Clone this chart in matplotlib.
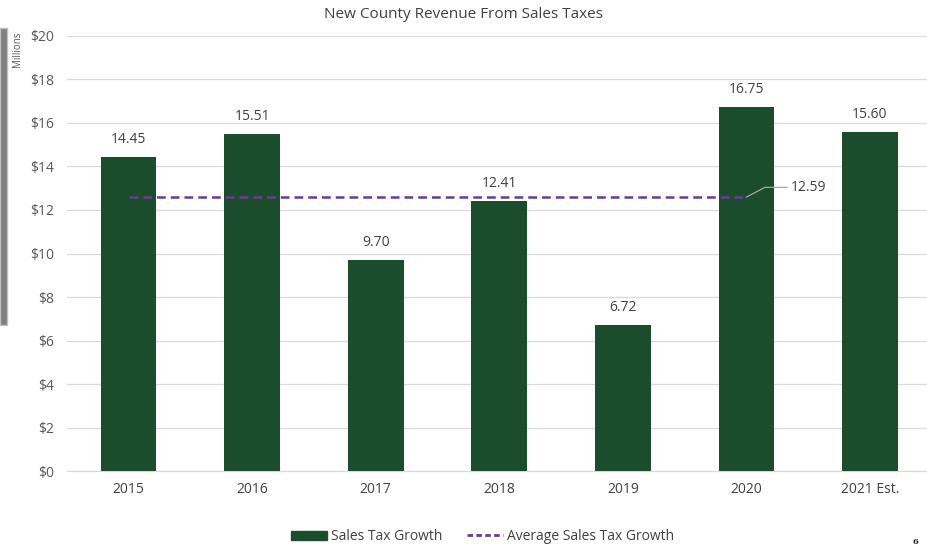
import matplotlib.pyplot as plt
import matplotlib.patches as mpatches
from matplotlib.lines import Line2D

years = ["2015", "2016", "2017", "2018", "2019", "2020", "2021 Est."]
revenue = [14.45, 15.51, 9.70, 12.41, 6.72, 16.75, 15.60]
avg_growth = 12.59
yticks = [0, 2, 4, 6, 8, 10, 12, 14, 16, 18, 20]

plt.rcParams['font.family'] = ['Open Sans', 'DejaVu Sans']
grey = "#595959"
green = "#1b4d2c"
purple = "#6b3a96"

fig = plt.figure(figsize=(9.28, 5.5), dpi=100)
ax = fig.add_axes([0.072, 0.143, 0.932, 0.792])

x = list(range(len(years)))
ax.bar(x, revenue, width=0.45, color=green, zorder=3, label="Sales Tax Growth")
for i, v in enumerate(revenue):
    ax.text(i, v + 0.45, f"{v:.2f}", ha="center", va="bottom", fontsize=10, color="#404040")

# average line runs 2015 -> 2020
ax.plot([0, 5], [avg_growth, avg_growth], color=purple, lw=1.8, ls=(0, (3.5, 2)), zorder=4)
ax.plot([5, 5.15, 5.33], [avg_growth, avg_growth + 0.45, avg_growth + 0.45],
        color="#a6a6a6", lw=0.9, zorder=5)
ax.text(5.36, avg_growth + 0.45, f"{avg_growth:.2f}", ha="left", va="center", fontsize=10, color="#404040")

ax.set_xlim(-0.5, 6.5)
ax.set_ylim(0, 20)
ax.set_yticks(yticks)
ax.set_yticklabels([f"${t}" for t in yticks], fontsize=10, color=grey)
ax.set_xticks(x)
ax.set_xticklabels(years, fontsize=10, color="#404040")
ax.tick_params(length=0, pad=9)
ax.tick_params(axis="x", pad=8)
ax.grid(axis="y", color="#d9d9d9", lw=0.9, zorder=0)
for s in ["top", "right", "left"]:
    ax.spines[s].set_visible(False)
ax.spines["bottom"].set_color("#d9d9d9")

fig.text(0.5, 0.974, "New County Revenue From Sales Taxes", ha="center", va="center",
         fontsize=11, color="#404040")
fig.text(0.019, 0.91, "Millions", rotation=90, ha="center", va="center", fontsize=7, color=grey)

# grey slide bar on the left edge
fig.patches.append(mpatches.Rectangle((0, 0.41), 0.008, 0.54, transform=fig.transFigure,
                                      facecolor="#7f7f7f", edgecolor="#bfbfbf", lw=1))

handles = [mpatches.Patch(color=green, label="Sales Tax Growth"),
           Line2D([0], [0], color=purple, lw=2, ls=(0, (2, 1.2)), label="Average Sales Tax Growth")]
fig.legend(handles=handles, loc="center", bbox_to_anchor=(0.52, 0.024), ncol=2, frameon=False,
           fontsize=10, handlelength=2.6, handletextpad=0.3, columnspacing=1.8,
           labelcolor="#404040")

fig.text(0.99, 0.008, "6", ha="right", va="bottom", fontsize=6, fontweight="bold",
         family="DejaVu Serif", color="#202020")

fig.savefig("out.png", dpi=100)
